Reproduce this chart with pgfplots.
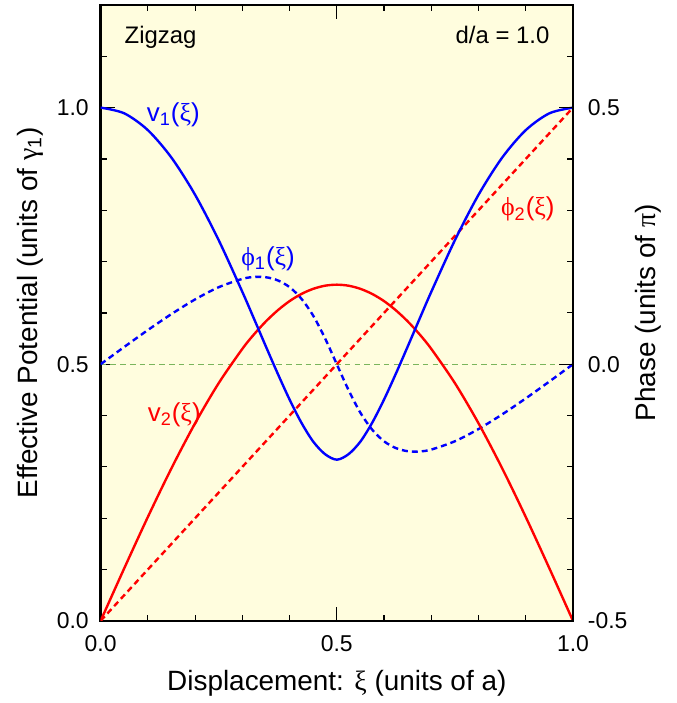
\documentclass[border=0pt]{standalone}
\usepackage{pgfplots}
\pgfplotsset{compat=1.18}
\usepackage{pgfplotstable}
\usepackage{fontspec}
\setmainfont{Liberation Sans}
\newfontfamily\grk{Liberation Serif}

\definecolor{paper}{RGB}{255,253,222}
\definecolor{zeroline}{RGB}{122,181,92}

\newcommand{\gxi}{{\grk ξ}}
\newcommand{\gphi}{{\grk ϕ}}

% xi, v1, v2, phi1 (phi1 shifted by +0.5 onto the potential scale)
\pgfplotstableread{
x     v1      v2      p1
0.000 1.0000  0.0000  0.5000
0.050 0.9889  0.1024  0.5337
0.100 0.9561  0.2024  0.5666
0.150 0.9025  0.2974  0.5978
0.200 0.8301  0.3850  0.6263
0.250 0.7416  0.4632  0.6501
0.300 0.6410  0.5299  0.6663
0.325 0.5880  0.5585  0.6700
0.350 0.5343  0.5836  0.6695
0.375 0.4815  0.6051  0.6634
0.400 0.4312  0.6230  0.6502
0.425 0.3861  0.6369  0.6277
0.450 0.3493  0.6469  0.5946
0.475 0.3248  0.6530  0.5507
0.500 0.3140  0.6550  0.5000
0.525 0.3248  0.6530  0.4493
0.550 0.3493  0.6469  0.4054
0.575 0.3861  0.6369  0.3723
0.600 0.4312  0.6230  0.3498
0.625 0.4815  0.6051  0.3366
0.650 0.5343  0.5836  0.3305
0.675 0.5880  0.5585  0.3300
0.700 0.6410  0.5299  0.3337
0.750 0.7416  0.4632  0.3499
0.800 0.8301  0.3850  0.3737
0.850 0.9025  0.2974  0.4022
0.900 0.9561  0.2024  0.4334
0.950 0.9889  0.1024  0.4663
1.000 1.0000  0.0000  0.5000
}\data

\pgfplotsset{
  common/.style={
    width=237pt, height=309pt, scale only axis,
    xmin=0, xmax=1,
    tick align=inside,
    major tick length=7pt, minor tick length=3pt,
    tick style={line width=0.6pt, black},
    tick label style={font=\fontsize{11.5}{13}\selectfont},
    /pgf/number format/.cd, fixed, fixed zerofill, precision=1, assume math mode=true,
  },
}

\begin{document}
\begin{tikzpicture}
\begin{axis}[common,
  ymin=0, ymax=1.2,
  axis background/.style={fill=paper},
  axis line style={line width=1.3pt},
  xtick={0,0.5,1}, ytick={0,0.5,1},
  minor xtick={0.1,0.2,0.3,0.4,0.6,0.7,0.8,0.9},
  minor ytick={0.1,0.2,0.3,0.4,0.6,0.7,0.8,0.9,1.1},
  xtick pos=both, ytick pos=left,
  xticklabel pos=bottom,
  xticklabel style={yshift=-4pt},
  yticklabel style={xshift=-2.5pt},
  xlabel={Displacement: \gxi\ (units of a)},
  ylabel={Effective Potential (units of {\grk γ}\textsubscript{1})},
  label style={font=\fontsize{14}{16}\selectfont},
  xlabel style={at={(axis description cs:0.5,0)}, anchor=base, yshift=-35pt},
  ylabel style={at={(axis description cs:0,0.5)}, anchor=center, yshift=35.5pt},
]
\addplot[zeroline, line width=0.7pt, dash pattern=on 2.8pt off 2.1pt] coordinates {(0,0.5) (1,0.5)};
\addplot[red, line width=1.2pt, dash pattern=on 3pt off 2pt] coordinates {(0,0) (1,1)};
\addplot[blue, line width=1.2pt, dash pattern=on 3pt off 2pt, smooth] table[x=x, y=p1]{\data};
\addplot[red, line width=1.2pt, smooth] table[x=x, y=v2]{\data};
\addplot[blue, line width=1.2pt, smooth] table[x=x, y=v1]{\data};

\node[anchor=base west, inner sep=0pt, font=\fontsize{12}{14}\selectfont] at (axis cs:0.05,1.124) {Zigzag};
\node[anchor=base east, inner sep=0pt, font=\fontsize{12}{14}\selectfont] at (axis cs:0.951,1.124) {d/a = 1.0};
\node[anchor=base west, blue, font=\fontsize{13}{15}\selectfont, inner sep=0pt] at (axis cs:0.097,0.973) {v\textsubscript{1}(\gxi)};
\node[anchor=base west, blue, font=\fontsize{13}{15}\selectfont, inner sep=0pt] at (axis cs:0.297,0.692) {\gphi\textsubscript{1}(\gxi)};
\node[anchor=base west, red, font=\fontsize{13}{15}\selectfont, inner sep=0pt] at (axis cs:0.847,0.789) {\gphi\textsubscript{2}(\gxi)};
\node[anchor=base west, red, font=\fontsize{13}{15}\selectfont, inner sep=0pt] at (axis cs:0.099,0.389) {v\textsubscript{2}(\gxi)};
\end{axis}

\begin{axis}[common,
  ymin=-0.5, ymax=0.7,
  axis x line=none,
  axis y line*=right,
  axis line style={line width=1.3pt},
  ytick={-0.5,0,0.5},
  minor ytick={-0.4,-0.3,-0.2,-0.1,0.1,0.2,0.3,0.4,0.6},
  yticklabel style={xshift=4pt},
  ylabel={Phase (units of {\grk π})},
  label style={font=\fontsize{14}{16}\selectfont},
  ylabel style={at={(axis description cs:1,0.5)}, anchor=center, yshift=-38pt},
]
\end{axis}

\path ([shift={(-50.5pt,-40pt)}]current axis.south west) rectangle ([shift={(52pt,2.5pt)}]current axis.north east);
\end{tikzpicture}
\end{document}
